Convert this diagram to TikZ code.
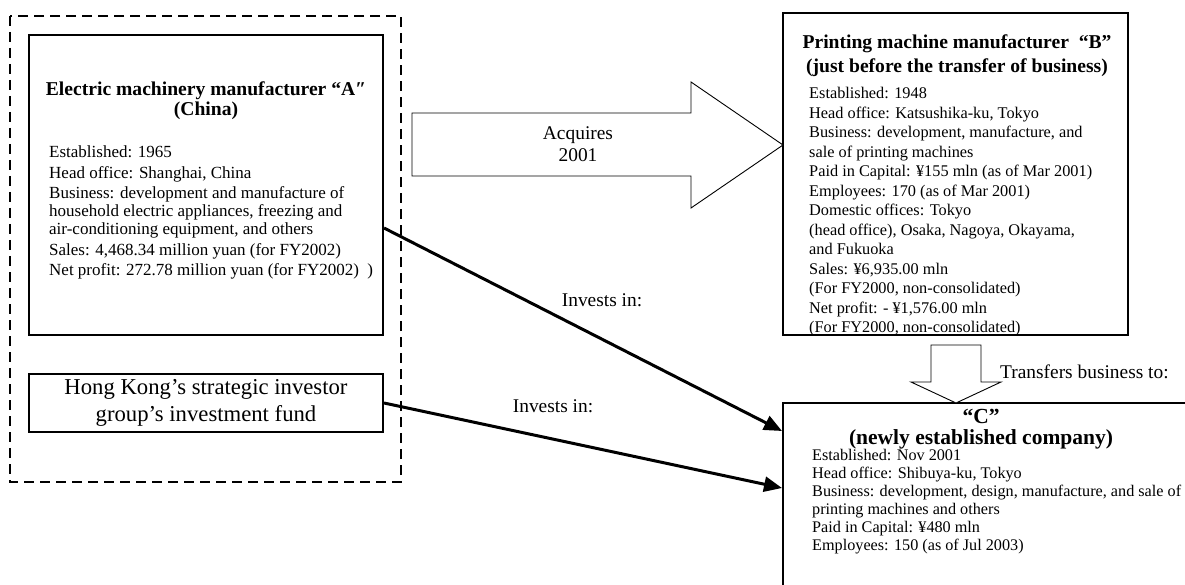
\documentclass[tikz,border=0pt]{standalone}
\usepackage{fontspec}
\setmainfont{Liberation Serif}
\usepackage{tikz}
\usetikzlibrary{arrows.meta, positioning, calc}

\tikzset{
    frame/.style={draw, line width=2pt, inner sep=0pt},
    bodytext/.style={align=left, inner sep=0pt, anchor=north west},
    titletext/.style={align=center, inner sep=0pt, font=\bfseries\fontsize{19.6}{22}\selectfont},
    labeltext/.style={align=center, inner sep=0pt, font=\fontsize{19.4}{22}\selectfont},
    invest/.style={line width=3pt, -{Triangle[length=18pt,width=15pt]}},
    blockarrow/.style={draw, line width=0.9pt, fill=white}
}

\begin{document}
\begin{tikzpicture}[x=1pt, y=-1pt]
    \useasboundingbox (0,0) rectangle (1185,585);

    % Group around A and the fund
    \draw[line width=2.5pt, dash pattern=on 10pt off 6pt] (10,16) rectangle (401,482);

    % Manufacturer A
    \node[frame, minimum width=354pt, minimum height=300pt] (boxA) at (206,185) {};
    \node[titletext, font=\bfseries\fontsize{19.6}{20}\selectfont] (titleA) at (206,101)
        {Electric machinery manufacturer “A″\\(China)};
    \node[bodytext, font=\fontsize{17}{18}\selectfont] (bodyA) at (49,146)
        {Established: 1965\\[2.5pt]
         Head office: Shanghai, China\\[2.5pt]
         Business: development and manufacture of\\
         household electric appliances, freezing and\\
         air-conditioning equipment, and others\\[2.5pt]
         Sales: 4,468.34 million yuan (for FY2002)\\[2.5pt]
         Net profit: 272.78 million yuan (for FY2002)\enspace)};

    % Hong Kong fund
    \node[frame, minimum width=354pt, minimum height=58pt, align=center,
          font=\fontsize{22.7}{27}\selectfont] (fund) at (206,403)
        {Hong Kong’s strategic investor\\group's investment fund};

    % Manufacturer B
    \node[frame, minimum width=345pt, minimum height=322pt] (boxB) at (955.5,174) {};
    \node[titletext, font=\bfseries\fontsize{19.6}{24}\selectfont] (titleB) at (957,56)
        {Printing machine manufacturer\enspace“B”\\(just before the transfer of business)};
    \node[bodytext, font=\fontsize{16.3}{19.5}\selectfont] (bodyB) at (809,87)
        {Established: 1948\\
         Head office: Katsushika-ku, Tokyo\\
         Business: development, manufacture, and\\
         sale of printing machines\\
         Paid in Capital: ¥155 mln (as of Mar 2001)\\
         Employees: 170 (as of Mar 2001)\\
         Domestic offices: Tokyo\\
         (head office), Osaka, Nagoya, Okayama,\\
         and Fukuoka\\
         Sales: ¥6,935.00 mln\\
         (For FY2000, non-consolidated)\\
         Net profit: - ¥1,576.00 mln\\
         (For FY2000, non-consolidated)};

    % New company C
    \node[frame, minimum width=407pt, minimum height=217pt] (boxC) at (986.5,511.5) {};
    \node[titletext, font=\bfseries\fontsize{21.5}{21}\selectfont] (titleC) at (981,429)
        {“C”\\(newly established company)};
    \node[bodytext, font=\fontsize{16.2}{18}\selectfont] (bodyC) at (812,449)
        {Established: Nov 2001\\
         Head office: Shibuya-ku, Tokyo\\
         Business: development, design, manufacture, and sale of\\
         printing machines and others\\
         Paid in Capital: ¥480 mln\\
         Employees: 150 (as of Jul 2003)};

    % Acquires arrow
    \draw[blockarrow] (412,113) -- (691,113) -- (691,82) -- (783,145)
        -- (691,208) -- (691,176) -- (412,176) -- cycle;
    \node[labeltext] (acq) at (578,144) {Acquires\\2001};

    % Transfer arrow
    \draw[blockarrow] (931,345) -- (981,345) -- (981,382) -- (1001,382)
        -- (956,403) -- (911,382) -- (931,382) -- cycle;
    \node[labeltext, anchor=west] (transfer) at (1000,372) {Transfers business to:};

    % Investments
    \draw[invest] ([yshift=-43pt]boxA.east) -- ([yshift=-29pt]boxC.north west);
    \draw[invest] (fund.east) -- ([yshift=-86pt]boxC.north west);
    \node[labeltext] (investA) at (602,300) {Invests in:};
    \node[labeltext] (investF) at (553,406) {Invests in:};
\end{tikzpicture}
\end{document}
